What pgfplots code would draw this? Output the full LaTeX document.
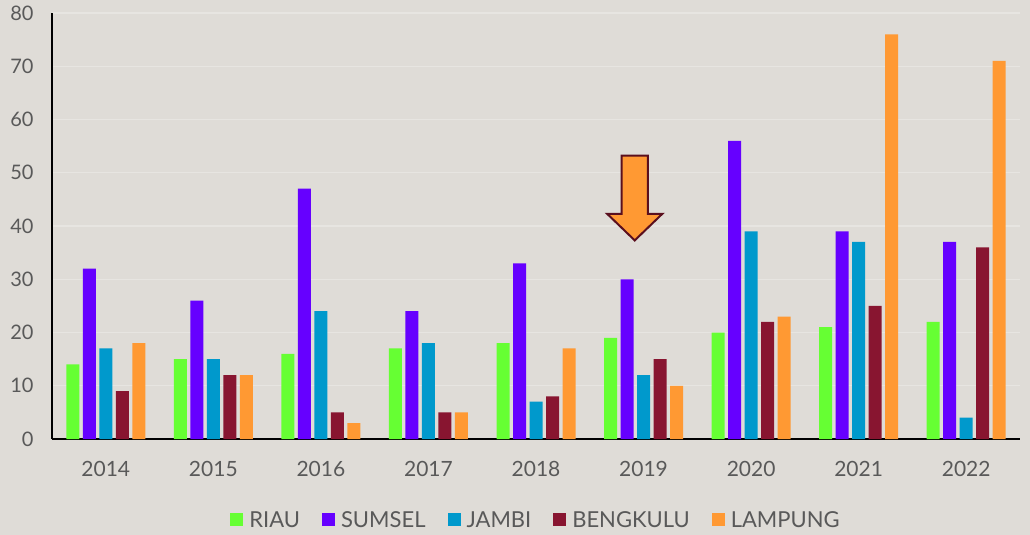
\documentclass[border=0pt]{standalone}
\usepackage{pgfplots}
\pgfplotsset{compat=1.18}
\usepackage{fontspec}
\setmainfont{Lato}
\definecolor{bg}{HTML}{DFDCD7}
\definecolor{gridc}{HTML}{E7E5E1}
\definecolor{txt}{HTML}{595959}
\definecolor{criau}{HTML}{66FF33}
\definecolor{csumsel}{HTML}{6600FF}
\definecolor{cjambi}{HTML}{0099CC}
\definecolor{cbeng}{HTML}{881530}
\definecolor{clamp}{HTML}{FF9933}
\definecolor{arrowedge}{HTML}{5A0F1E}
\begin{document}
\begin{tikzpicture}[x=1pt,y=1pt]
\fill[bg] (-52,-96) rectangle (978,439);
\useasboundingbox (-52,-96) rectangle (978,439);
\begin{axis}[
  at={(0,0)}, anchor=south west,
  scale only axis, width=968pt, height=426pt,
  xmin=-0.5, xmax=8.5, ymin=0, ymax=80,
  ytick={0,10,...,80},
  xtick={0,...,8},
  xticklabels={2014,2015,2016,2017,2018,2019,2020,2021,2022},
  axis x line*=bottom, axis y line*=left,
  axis line style={black, line width=1.5pt, -},
  major tick length=0pt,
  ymajorgrids, grid style={gridc, line width=1.2pt},
  tick label style={text=txt},
  xticklabel style={font=\fontsize{21}{24}\selectfont, yshift=-19pt},
  yticklabel style={font=\fontsize{20}{24}\selectfont, xshift=-15pt},
  /pgf/number format/assume math mode=true,
  ybar=3.5pt, bar width=13pt,
  legend columns=5,
  legend style={draw=none, fill=none, at={(0.5,-0.19)}, anchor=center,
    font=\fontsize{22}{25}\selectfont, text=txt,
    /tikz/every odd column/.append style={column sep=4pt},
    /tikz/every even column/.append style={column sep=20pt}},
  legend image code/.code={\fill[#1] (0pt,-6.5pt) rectangle (13pt,6.5pt);},
]
\addplot[fill=criau, draw=none] coordinates {(0,14) (1,15) (2,16) (3,17) (4,18) (5,19) (6,20) (7,21) (8,22)};
\addplot[fill=csumsel, draw=none] coordinates {(0,32) (1,26) (2,47) (3,24) (4,33) (5,30) (6,56) (7,39) (8,37)};
\addplot[fill=cjambi, draw=none] coordinates {(0,17) (1,15) (2,24) (3,18) (4,7) (5,12) (6,39) (7,37) (8,4)};
\addplot[fill=cbeng, draw=none] coordinates {(0,9) (1,12) (2,5) (3,5) (4,8) (5,15) (6,22) (7,25) (8,36)};
\addplot[fill=clamp, draw=none] coordinates {(0,18) (1,12) (2,3) (3,5) (4,17) (5,10) (6,23) (7,76) (8,71)};
\legend{RIAU,SUMSEL,JAMBI,BENGKULU,LAMPUNG}
\draw[fill=clamp, draw=arrowedge, line width=2pt, line join=miter]
  (axis cs:4.795,53.2) -- (axis cs:5.041,53.2) -- (axis cs:5.041,42.3) -- (axis cs:5.175,42.3)
  -- (axis cs:4.918,37.3) -- (axis cs:4.661,42.3) -- (axis cs:4.795,42.3) -- cycle;
\end{axis}
\end{tikzpicture}
\end{document}
